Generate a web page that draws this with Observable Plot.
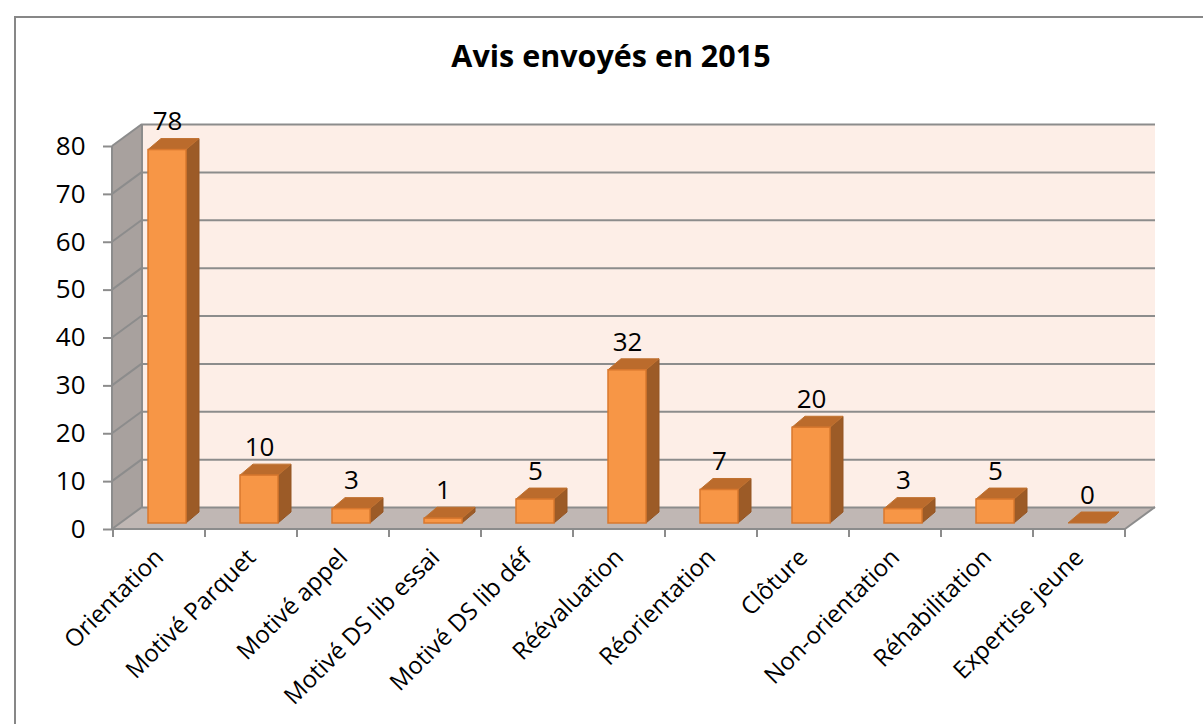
<!DOCTYPE html>
<html>
<head>
<meta charset="utf-8">
<script src="https://cdn.jsdelivr.net/npm/d3@7"></script>
<script src="https://cdn.jsdelivr.net/npm/@observablehq/plot@0.6"></script>
<style>
  html, body { margin: 0; padding: 0; background: #fff; overflow: hidden; }
  #page { position: relative; width: 1203px; height: 724px; overflow: hidden; }
  #chart { position: absolute; left: 0; top: 0; }
  #border { position: absolute; left: 14px; top: 16px; width: 1300px; height: 800px;
            border: 2px solid #878787; box-sizing: border-box; pointer-events: none; }
  #title { position: absolute; left: 0; top: 35px; width: 1222px; text-align: center;
           font-family: "Open Sans", sans-serif; font-weight: 700; font-size: 30.5px; line-height: 40px; color: #000; }
</style>
</head>
<body>
<div id="page">
  <div id="chart"></div>
  <div id="border"></div>
  <div id="title">Avis envoyés en 2015</div>
</div>
<script>
const categories = ["Orientation", "Motivé Parquet", "Motivé appel", "Motivé DS lib essai", "Motivé DS lib déf",
  "Réévaluation", "Réorientation", "Clôture", "Non-orientation", "Réhabilitation", "Expertise jeune"];
const values = [78, 10, 3, 1, 5, 32, 7, 20, 3, 5, 0];
const yTicks = [0, 10, 20, 30, 40, 50, 60, 70, 80];

const data = categories.map((category, i) => ({category, value: values[i]}));

// 3D geometry (pixels)
const WALL_DX = 30, WALL_DY = -22;
const BAR_DX = 13, BAR_DY = -11;
const SHIFT_X = 8, SHIFT_Y = -6;
const INSET = 27;
const GRID = "#8c8c8c";
const FS = 26;
const FS_X = 24;

function walls(index, scales, values, dims) {
  const {y} = scales;
  const x0 = dims.marginLeft, x1 = dims.width - dims.marginRight;
  const yb = y(0), yt = y(yTicks[yTicks.length - 1]);
  const g = d3.create("svg:g");
  g.append("rect").attr("x", x0 + WALL_DX).attr("y", yt + WALL_DY)
    .attr("width", x1 - x0).attr("height", yb - yt).attr("fill", "#fdeee7");
  g.append("polygon").attr("points", [[x0, yb], [x0, yt], [x0 + WALL_DX, yt + WALL_DY], [x0 + WALL_DX, yb + WALL_DY]].join(" "))
    .attr("fill", "#a8a19e");
  g.append("polygon").attr("points", [[x0, yb], [x0 + WALL_DX, yb + WALL_DY], [x1 + WALL_DX, yb + WALL_DY], [x1, yb]].join(" "))
    .attr("fill", "#c0b7b4");
  for (const t of yTicks) {
    g.append("line").attr("x1", x0).attr("y1", y(t)).attr("x2", x0 + WALL_DX).attr("y2", y(t) + WALL_DY)
      .attr("stroke", GRID).attr("stroke-width", 2);
  }
  g.append("line").attr("x1", x0 + WALL_DX).attr("x2", x0 + WALL_DX)
    .attr("y1", yt + WALL_DY).attr("y2", yb + WALL_DY).attr("stroke", GRID).attr("stroke-width", 2);
  g.append("line").attr("x1", x1).attr("y1", yb).attr("x2", x1 + WALL_DX).attr("y2", yb + WALL_DY)
    .attr("stroke", GRID).attr("stroke-width", 2);
  return g.node();
}

function barDepth(index, scales, values, dims) {
  const {x, y} = scales;
  const bw = x.bandwidth();
  const g = d3.create("svg:g");
  for (const d of data) {
    const xl = x(d.category) + INSET + SHIFT_X;
    const xr = x(d.category) + bw - INSET + SHIFT_X;
    const yt = y(d.value) + SHIFT_Y;
    const yb = y(0) + SHIFT_Y;
    g.append("polygon").attr("points", [[xr, yt], [xr + BAR_DX, yt + BAR_DY], [xr + BAR_DX, yb + BAR_DY], [xr, yb]].join(" "))
      .attr("fill", "#9c5b27").attr("stroke", "#955625").attr("stroke-width", 1);
    g.append("polygon").attr("points", [[xl, yt], [xr, yt], [xr + BAR_DX, yt + BAR_DY], [xl + BAR_DX, yt + BAR_DY]].join(" "))
      .attr("fill", "#bb6b2c").attr("stroke", "#c0712f").attr("stroke-width", 1);
  }
  return g.node();
}

function axisLines(index, scales, values, dims) {
  const {x, y} = scales;
  const x0 = dims.marginLeft, x1 = dims.width - dims.marginRight;
  const yb = y(0), yt = y(yTicks[yTicks.length - 1]);
  const g = d3.create("svg:g").attr("stroke", GRID).attr("stroke-width", 2);
  g.append("line").attr("x1", x0).attr("x2", x0).attr("y1", yt).attr("y2", yb);
  g.append("line").attr("x1", x0).attr("x2", x1).attr("y1", yb).attr("y2", yb);
  const edges = categories.map(c => x(c)).concat([x1]);
  for (const e of edges) {
    g.append("line").attr("x1", e).attr("x2", e).attr("y1", yb).attr("y2", yb + 8);
  }
  return g.node();
}

const chart = Plot.plot({
  width: 1203,
  height: 724,
  marginLeft: 112,
  marginRight: 78,
  marginTop: 146,
  marginBottom: 195,
  style: {fontFamily: "'Open Sans', sans-serif", fontSize: FS + "px", background: "transparent", color: "#000"},
  x: {domain: categories, padding: 0},
  y: {domain: [0, 80]},
  marks: [
    walls,
    Plot.ruleY(yTicks, {dx: WALL_DX, dy: WALL_DY, stroke: GRID, strokeWidth: 2}),
    barDepth,
    Plot.barY(data, {x: "category", y: "value", fill: "#f79646", stroke: "#d9782e", strokeWidth: 1.5,
      insetLeft: INSET, insetRight: INSET, dx: SHIFT_X, dy: SHIFT_Y}),
    Plot.text(data, {x: "category", y: "value", text: d => String(d.value), dx: SHIFT_X, dy: -34,
      fill: "#000", fontSize: FS}),
    axisLines,
    Plot.axisY(yTicks, {tickSize: 9, tickPadding: 18, stroke: GRID, strokeWidth: 2, fill: "#000", fontSize: FS, label: null}),
    Plot.axisX({tickSize: 0, tickRotate: -45, tickPadding: 24, fill: "#000", fontSize: FS_X, label: null})
  ]
});
document.getElementById("chart").appendChild(chart);
</script>
</body>
</html>
